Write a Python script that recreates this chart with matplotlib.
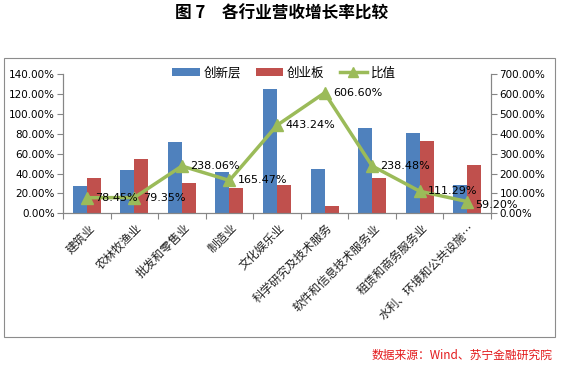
import matplotlib
matplotlib.use("Agg")
import matplotlib.pyplot as plt
import numpy as np
from matplotlib.lines import Line2D
from matplotlib.patches import Patch, Rectangle

plt.rcParams['font.family'] = ['Noto Sans CJK SC', 'DejaVu Sans']

categories = ["建筑业", "农林牧渔业", "批发和零售业", "制造业", "文化娱乐业",
              "科学研究及技术服务", "软件和信息技术服务业", "租赁和商务服务业", "水利、环境和公共设施…"]
xinsanban = [28.0, 43.6, 72.1, 41.9, 125.2, 44.6, 85.9, 81.2, 28.5]
chuangye = [35.7, 54.9, 30.3, 25.3, 28.2, 7.35, 36.0, 73.0, 48.2]
ratio = [78.45, 79.35, 238.06, 165.47, 443.24, 606.60, 238.48, 111.29, 59.20]
ratio_labels = ["78.45%", "79.35%", "238.06%", "165.47%", "443.24%", "606.60%", "238.48%", "111.29%", "59.20%"]
left_ticks = [0, 20, 40, 60, 80, 100, 120, 140]
right_ticks = [0, 100, 200, 300, 400, 500, 600, 700]

blue = "#4F81BD"
red = "#C0504D"
green = "#9BBB59"

W, H = 563, 365
fig = plt.figure(figsize=(W / 100, H / 100), dpi=100)

# outer border
fig.patches.append(Rectangle((4 / W, 1 - 337 / H), 551 / W, (337 - 58) / H,
                             transform=fig.transFigure, fill=False,
                             edgecolor="#8c8c8c", linewidth=0.8))

fig.text(282 / W, 1 - 14 / H, "图 7　各行业营收增长率比较", ha="center", va="center",
         fontsize=12, fontweight="bold")
fig.text(552 / W, 1 - 355 / H, "数据来源：Wind、苏宁金融研究院", ha="right", va="center",
         fontsize=8.5, color="#e31a1c", style="italic")

ax = fig.add_axes([63 / W, 1 - 213.3 / H, (491 - 63) / W, (213.3 - 74.3) / H])
x = np.arange(len(categories))
bw = 0.295
ax.bar(x - bw / 2, xinsanban, width=bw, color=blue, zorder=2)
ax.bar(x + bw / 2, chuangye, width=bw, color=red, zorder=2)
ax.set_xlim(-0.5, len(categories) - 0.5)
ax.set_ylim(0, 140)
ax.set_yticks(left_ticks)
ax.set_yticklabels([f"{v:.2f}%" for v in left_ticks], fontsize=7.5, family="DejaVu Sans")
ax.set_xticks(np.arange(-0.5, len(categories), 1.0))
ax.set_xticklabels([])
ax.tick_params(axis="x", length=4, color="#868686")
ax.tick_params(axis="y", length=4, color="#868686", pad=2)
ax.spines["top"].set_visible(False)
for s in ["left", "bottom", "right"]:
    ax.spines[s].set_color("#868686")

for i, c in enumerate(categories):
    ax.annotate(c, xy=(i, 0), xytext=(1, -6), textcoords="offset points",
                rotation=45, ha="right", va="top", rotation_mode="anchor",
                fontsize=8.5, color="#222222")

ax2 = ax.twinx()
ax2.plot(x, ratio, color=green, linewidth=2.5, marker="^", markersize=8, zorder=3)
ax2.set_ylim(0, 700)
ax2.set_yticks(right_ticks)
ax2.set_yticklabels([f"{v:.2f}%" for v in right_ticks], fontsize=7.5, family="DejaVu Sans")
ax2.tick_params(axis="y", length=4, color="#868686", pad=2)
ax2.spines["top"].set_visible(False)
for s in ["left", "bottom", "right"]:
    ax2.spines[s].set_color("#868686")
n = len(ratio)
for k, (xi, v, lab) in enumerate(zip(x, ratio, ratio_labels)):
    dy = -2.5 if k == n - 1 else 0
    ax2.annotate(lab, xy=(xi, v), xytext=(6, dy), textcoords="offset points",
                 ha="left", va="center", fontsize=8, family="DejaVu Sans")

handles = [Patch(facecolor=blue, label="创新层"),
           Patch(facecolor=red, label="创业板"),
           Line2D([0], [0], color=green, linewidth=2.5, marker="^", markersize=7, label="比值")]
fig.legend(handles=handles, loc="center", bbox_to_anchor=(284 / W, 1 - 73 / H), ncol=3,
           frameon=False, fontsize=9, handlelength=2.2, handleheight=0.6,
           columnspacing=1.2, handletextpad=0.3, borderaxespad=0)

fig.savefig("out.png", dpi=100)
